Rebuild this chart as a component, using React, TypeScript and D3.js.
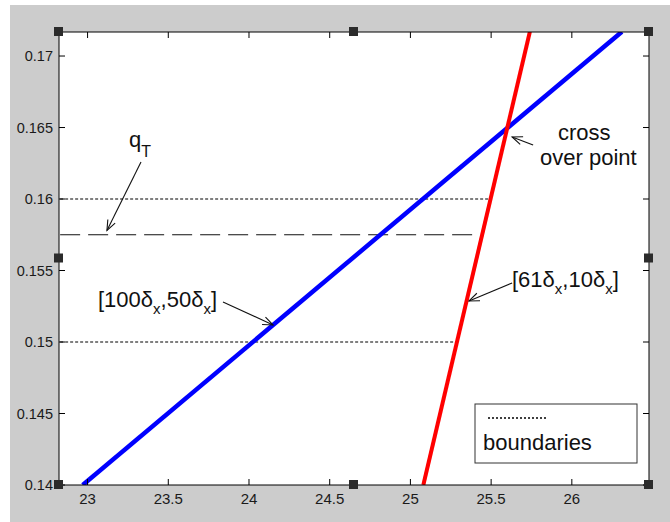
import React from 'react';
import * as d3 from 'd3';

// canvas
const width = 670;
const height = 522;

// axes box
const left = 59;
const right = 649;
const top = 32;
const bottom = 485;

// lines
const blueX = [22.97, 26.31];
const blueY = [0.14, 0.1717];
const redX = [25.08, 25.74];
const redY = [0.14, 0.1717];

// boundaries (dotted) and q_T (dashed)
const boundaryY = [0.15, 0.16];
const boundaryEndX = [25.29, 25.5];
const lineStartX = 22.83;
const qTLevel = 0.1575;
const qTEndX = 25.4;

// ticks
const xTicks = [23, 23.5, 24, 24.5, 25, 25.5, 26];
const yTicks = [0.14, 0.145, 0.15, 0.155, 0.16, 0.165, 0.17];

// annotation arrows, [tailX, tailY, tipX, tipY] in data units
const arrowQT = [23.331, 0.16259, 23.12, 0.1578];
const arrowBlue = [23.839, 0.1528, 24.149, 0.15119];
const arrowRed = [25.63, 0.15413, 25.363, 0.15287];
const arrowCross = [25.76, 0.16378, 25.63, 0.16434];

const x = d3.scaleLinear().domain([22.823, 26.478]).range([left, right]);
const y = d3.scaleLinear().domain([0.14, 0.17168]).range([bottom, top]);

const line = d3
  .line<number>()
  .x((d) => x(d[0]))
  .y((d) => y(d[1]));

const font = '"Liberation Sans", Arial, sans-serif';
const tickLen = 6;

const Arrow = ({ a }: { a: number[] }) => {
  const x1 = x(a[0]);
  const y1 = y(a[1]);
  const x2 = x(a[2]);
  const y2 = y(a[3]);
  const ang = Math.atan2(y2 - y1, x2 - x1);
  const len = 11;
  const spread = 0.38;
  const h1 = [x2 - len * Math.cos(ang - spread), y2 - len * Math.sin(ang - spread)];
  const h2 = [x2 - len * Math.cos(ang + spread), y2 - len * Math.sin(ang + spread)];
  return (
    <g stroke="#111" strokeWidth={1.1} fill="none">
      <line x1={x1} y1={y1} x2={x2} y2={y2} />
      <polyline points={`${h1[0]},${h1[1]} ${x2},${y2} ${h2[0]},${h2[1]}`} />
    </g>
  );
};

const handles = [
  [left, top],
  [(left + right) / 2, top],
  [right, top],
  [left, (top + bottom) / 2],
  [right, (top + bottom) / 2],
  [left, bottom],
  [(left + right) / 2, bottom],
  [right, bottom],
];

const App = () => (
  <svg
    width={width}
    height={height}
    style={{ position: 'absolute', left: 0, top: 0 }}
    fontFamily={font}
  >
    <defs>
      <clipPath id="plot">
        <rect x={left} y={top} width={right - left} height={bottom - top} />
      </clipPath>
    </defs>
    <rect width={width} height={height} fill="#fff" />
    <rect x={10} y={5} width={width - 10} height={height - 5} fill="#cccccc" />
    <rect x={left} y={top} width={right - left} height={bottom - top} fill="#fff" />

    {/* boundaries */}
    {boundaryY.map((v, i) => (
      <path
        key={v}
        d={line([[lineStartX, v], [boundaryEndX[i], v]]) || ''}
        stroke="#000"
        strokeWidth={1.1}
        strokeDasharray="3,2"
        fill="none"
      />
    ))}
    {/* q_T */}
    <path
      d={line([[lineStartX, qTLevel], [qTEndX, qTLevel]]) || ''}
      stroke="#111"
      strokeWidth={1.1}
      strokeDasharray="20,8"
      fill="none"
    />

    <g clipPath="url(#plot)">
      <path
        d={line(blueX.map((v, i) => [v, blueY[i]])) || ''}
        stroke="#0000ff"
        strokeWidth={4.5}
        fill="none"
      />
      <path
        d={line(redX.map((v, i) => [v, redY[i]])) || ''}
        stroke="#ff0000"
        strokeWidth={4}
        fill="none"
      />
    </g>

    {/* frame and ticks */}
    <rect
      x={left}
      y={top}
      width={right - left}
      height={bottom - top}
      fill="none"
      stroke="#000"
      strokeWidth={1}
    />
    {xTicks.map((t) => (
      <g key={t}>
        <line x1={x(t)} x2={x(t)} y1={bottom} y2={bottom - tickLen} stroke="#000" />
        <line x1={x(t)} x2={x(t)} y1={top} y2={top + tickLen} stroke="#000" />
        <text x={x(t)} y={bottom + 19} fontSize={15} textAnchor="middle" fill="#1a1a1a">
          {String(t)}
        </text>
      </g>
    ))}
    {yTicks.map((t) => (
      <g key={t}>
        <line x1={left} x2={left + tickLen} y1={y(t)} y2={y(t)} stroke="#000" />
        <line x1={right} x2={right - tickLen} y1={y(t)} y2={y(t)} stroke="#000" />
        <text x={left - 6} y={y(t) + 5} fontSize={14.5} textAnchor="end" fill="#1a1a1a">
          {String(t)}
        </text>
      </g>
    ))}

    {/* annotations */}
    <text x={129} y={147} fontSize={22} fill="#111">
      q<tspan fontSize={16} dy={10}>T</tspan>
    </text>
    <Arrow a={arrowQT} />

    <text x={98} y={307} fontSize={22} fill="#111">
      [100δ<tspan fontSize={15} dy={7}>x</tspan>
      <tspan dy={-7}>,50δ</tspan>
      <tspan fontSize={15} dy={7}>x</tspan>
      <tspan dy={-7}>]</tspan>
    </text>
    <Arrow a={arrowBlue} />

    <text x={512} y={287} fontSize={22} fill="#111">
      [61δ<tspan fontSize={15} dy={7}>x</tspan>
      <tspan dy={-7}>,10δ</tspan>
      <tspan fontSize={15} dy={7}>x</tspan>
      <tspan dy={-7}>]</tspan>
    </text>
    <Arrow a={arrowRed} />

    <text x={558} y={140} fontSize={22} fill="#111">cross</text>
    <text x={540} y={165} fontSize={22} fill="#111">over point</text>
    <Arrow a={arrowCross} />

    {/* legend */}
    <rect x={475} y={404} width={162} height={59} fill="#fff" stroke="#333" strokeWidth={1} />
    <line x1={488} x2={548} y1={418} y2={418} stroke="#000" strokeWidth={1.3} strokeDasharray="2,2" />
    <text x={483} y={450} fontSize={22} fill="#111">boundaries</text>

    {/* selection handles */}
    {handles.map(([hx, hy], i) => (
      <rect key={i} x={hx - 5} y={hy - 5} width={9} height={9} fill="#2b2b2b" />
    ))}
  </svg>
);

export default App;
